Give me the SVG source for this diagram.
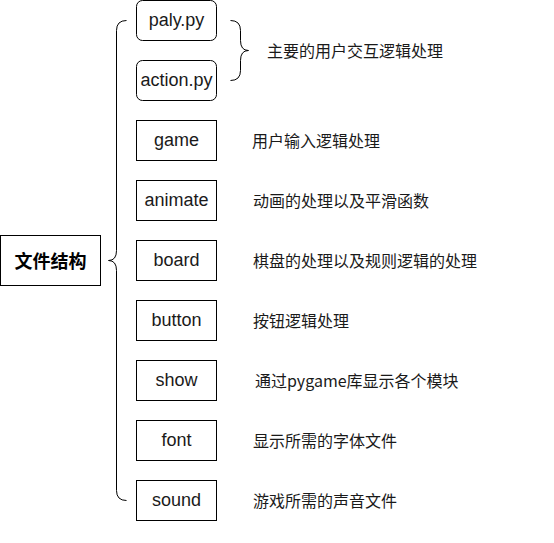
<svg xmlns="http://www.w3.org/2000/svg" width="554" height="543" viewBox="0 0 554 543">
<style>
.box{fill:#fff;stroke:#000;stroke-width:1}
.lbl{font-family:"Liberation Sans",Arial,sans-serif;font-size:18px;fill:#1a1a1a;text-anchor:middle;dominant-baseline:central}
.root{font-family:"Noto Sans CJK SC",sans-serif;font-size:18px;font-weight:bold;fill:#000;text-anchor:middle;dominant-baseline:central}
.desc{font-family:"Noto Sans CJK SC",sans-serif;font-size:16px;fill:#1a1a1a;dominant-baseline:central}
.br{fill:none;stroke:#000;stroke-width:1}
</style>
<rect width="554" height="543" fill="#fff"/>
<g id="connectors">
<path class="br" d="M126.5,20.5 Q116.5,20.5 116.5,30.5 L116.5,250.5 Q116.5,260.5 108.5,260.5 Q116.5,260.5 116.5,270.5 L116.5,490.5 Q116.5,500.5 126.5,500.5"/>
<path class="br" d="M230.5,20.5 Q240.5,20.5 240.5,30.5 L240.5,40.5 Q240.5,50.5 248.5,50.5 Q240.5,50.5 240.5,60.5 L240.5,70.5 Q240.5,80.5 230.5,80.5"/>
</g>
<g id="root"><rect class="box" x="0.5" y="235.5" width="100" height="50"/><text class="root" x="50.5" y="260">文件结构</text></g>
<g id="paly"><rect class="box" x="136.5" y="0.5" width="80" height="40" rx="6"/><text class="lbl" x="176.5" y="20">paly.py</text></g>
<g id="action"><rect class="box" x="136.5" y="60.5" width="80" height="40" rx="6"/><text class="lbl" x="176.5" y="80">action.py</text></g>
<g id="game"><rect class="box" x="136.5" y="120.5" width="80" height="40"/><text class="lbl" x="176.5" y="140">game</text></g>
<g id="animate"><rect class="box" x="136.5" y="180.5" width="80" height="40"/><text class="lbl" x="176.5" y="200">animate</text></g>
<g id="board"><rect class="box" x="136.5" y="240.5" width="80" height="40"/><text class="lbl" x="176.5" y="260">board</text></g>
<g id="button"><rect class="box" x="136.5" y="300.5" width="80" height="40"/><text class="lbl" x="176.5" y="320">button</text></g>
<g id="show"><rect class="box" x="136.5" y="360.5" width="80" height="40"/><text class="lbl" x="176.5" y="380">show</text></g>
<g id="font"><rect class="box" x="136.5" y="420.5" width="80" height="40"/><text class="lbl" x="176.5" y="440">font</text></g>
<g id="sound"><rect class="box" x="136.5" y="480.5" width="80" height="40"/><text class="lbl" x="176.5" y="500">sound</text></g>
<g id="desc-main"><text class="desc" x="267" y="50">主要的用户交互逻辑处理</text></g>
<g id="desc-game"><text class="desc" x="252" y="140">用户输入逻辑处理</text></g>
<g id="desc-animate"><text class="desc" x="253" y="200">动画的处理以及平滑函数</text></g>
<g id="desc-board"><text class="desc" x="253" y="260">棋盘的处理以及规则逻辑的处理</text></g>
<g id="desc-button"><text class="desc" x="253" y="320">按钮逻辑处理</text></g>
<g id="desc-show"><text class="desc" x="255" y="380">通过pygame库显示各个模块</text></g>
<g id="desc-font"><text class="desc" x="253" y="440">显示所需的字体文件</text></g>
<g id="desc-sound"><text class="desc" x="253" y="500">游戏所需的声音文件</text></g>
</svg>
